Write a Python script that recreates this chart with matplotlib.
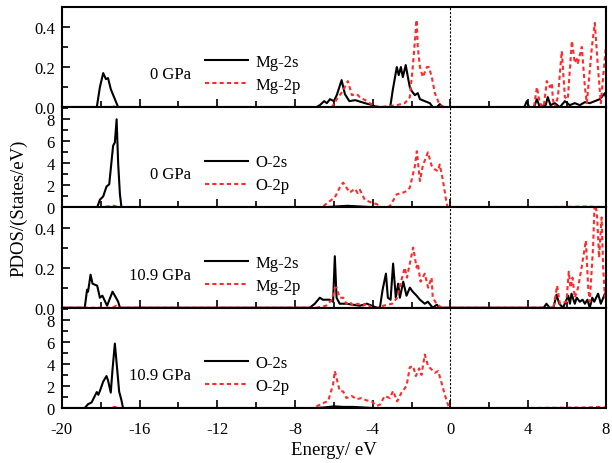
import numpy as np
import matplotlib
matplotlib.use("Agg")
import matplotlib.pyplot as plt
from matplotlib.ticker import MultipleLocator, FormatStrFormatter

plt.rcParams['font.family'] = ['Liberation Serif', 'DejaVu Serif']
plt.rcParams['font.size'] = 12
plt.rcParams['axes.unicode_minus'] = False

# Mg PDOS at 0 GPa (energy in eV, states/eV)
mg_s_0_e = [-20, -18.2, -18.04, -17.87, -17.73, -17.62, -17.48, -17.27, -17.1,
            -6.9, -6.72, -6.5, -6.36, -6.2, -6.0, -5.85, -5.6, -5.43, -5.2, -4.9,
            -4.4, -4.0, -3.8, -3.1, -2.96, -2.76, -2.66, -2.55, -2.45, -2.30, -2.19,
            -2.09, -1.99, -1.83, -1.68, -1.57, -1.32, -1.06, -0.91, -0.7, -0.55, -0.39,
            3.8, 3.93, 4.05, 4.3, 4.45, 4.6, 4.9, 5.01, 5.15, 5.37, 5.63, 5.89, 6.14,
            6.40, 6.66, 6.92, 7.17, 7.43, 7.69, 7.95, 8]
mg_s_0_v = [0, 0, 0.1, 0.17, 0.14, 0.145, 0.09, 0.04, 0,
            0, 0.01, 0.03, 0.02, 0.04, 0.03, 0.06, 0.135, 0.065, 0.03, 0.035,
            0.02, 0.01, 0, 0, 0.09, 0.2, 0.16, 0.2, 0.15, 0.21, 0.15,
            0.1, 0.08, 0.06, 0.07, 0.04, 0.03, 0.02, 0, 0, 0.015, 0,
            0, 0.03, 0, 0, 0.04, 0, 0.01, 0.05, 0.01, 0.02, 0, 0.03, 0.01,
            0.02, 0.01, 0.025, 0.02, 0.03, 0.04, 0.07, 0.05]
mg_p_0_e = [-20, -17.6, -17.4, -17.2, -6.1, -5.85, -5.54, -5.28, -5.07, -4.82,
            -4.66, -4.3, -4.0, -3.63, -2.76, -2.35, -2.09, -1.94, -1.74, -1.68,
            -1.57, -1.42, -1.21, -1.11, -0.96, -0.80, -0.55, -0.29,
            4.3, 4.45, 4.6, 4.8, 4.96, 5.12, 5.22, 5.27, 5.37, 5.53, 5.73, 5.89,
            6.04, 6.25, 6.40, 6.51, 6.56, 6.76, 6.92, 7.02, 7.28, 7.43, 7.59, 7.74,
            7.95, 8]
mg_p_0_v = [0, 0, 0.005, 0, 0, 0.04, 0.08, 0.13, 0.06, 0.065,
            0.05, 0.03, 0.01, 0, 0.01, 0.02, 0.05, 0.2, 0.435, 0.3,
            0.2, 0.15, 0.2, 0.2, 0.15, 0.07, 0.01, 0,
            0, 0.1, 0.02, 0, 0.13, 0.1, 0.12, 0.04, 0, 0.05, 0.28, 0.05,
            0.04, 0.33, 0.22, 0.24, 0.22, 0.3, 0.1, 0.02, 0.3, 0.42, 0.2, 0.02,
            0.25, 0.3]

# O PDOS at 0 GPa
o_s_0_e = [-20, -18.18, -18.04, -17.87, -17.7, -17.56, -17.36, -17.27, -17.18,
           -17.1, -17.01, -16.93, -6.7, -6.2, -5.8, -5.3, -4.8, -4.3, -3.8, 8]
o_s_0_v = [0, 0, 0.7, 1.0, 1.9, 2.1, 5.6, 5.9, 8.0,
           4.0, 1.2, 0, 0, 0.05, 0.1, 0.15, 0.1, 0.05, 0, 0]
o_p_0_e = [-20, -18.0, -17.6, -17.3, -17.1, -6.63, -6.21, -5.95, -5.70, -5.52,
           -5.35, -5.18, -4.92, -4.77, -4.66, -4.41, -4.15, -3.79, -3.53, -3.12,
           -2.76, -2.5, -2.24, -2.09, -1.83, -1.73, -1.57, -1.42, -1.16, -0.97,
           -0.80, -0.65, -0.55, -0.39, -0.2, -0.13, 3.5, 4.5, 6, 7, 7.5, 8]
o_p_0_v = [0, 0, 0.1, 0.15, 0, 0, 0.57, 0.9, 1.8, 2.25,
           1.8, 1.35, 1.7, 1.3, 1.6, 0.7, 0.5, 0.3, 0, 0.1,
           1.2, 1.3, 1.5, 1.8, 3.75, 5.1, 2.4, 3.8, 5.0, 3.8,
           3.45, 3.3, 3.9, 2.5, 0.4, 0, 0, 0.03, 0.05, 0.08, 0.05, 0.03]

# Mg PDOS at 10.9 GPa
mg_s_h_e = [-20, -18.82, -18.70, -18.65, -18.52, -18.42, -18.30, -18.18, -18.04,
            -17.91, -17.67, -17.39, -17.27, -17.10, -17.01,
            -7.24, -6.98, -6.72, -6.57, -6.36, -6.21, -6.04, -5.95, -5.86, -5.70,
            -5.35, -5.02, -4.66, -4.30, -3.79, -3.63, -3.49, -3.32, -3.22, -3.08,
            -2.95, -2.81, -2.69, -2.60, -2.43, -2.26, -2.09, -1.94, -1.74, -1.57,
            -1.32, -1.16, -0.91, -0.70, -0.55,
            4.8, 4.94, 5.1, 5.3, 5.46, 5.6, 5.8, 6.06, 6.15, 6.23, 6.4, 6.5, 6.66,
            6.8, 6.92, 7.05, 7.17, 7.3, 7.4, 7.6, 7.74, 7.95, 8]
mg_s_h_v = [0, 0, 0.09, 0.08, 0.165, 0.12, 0.115, 0.11, 0.05,
            0.06, 0.01, 0.08, 0.06, 0.03, 0,
            0, 0.02, 0.05, 0.04, 0.04, 0.04, 0.03, 0.257, 0.05, 0.02,
            0.02, 0.015, 0.01, 0.02, 0, 0, 0.09, 0.17, 0.05, 0.04,
            0.22, 0.05, 0.12, 0.05, 0.13, 0.06, 0.10, 0.08, 0.06, 0.04,
            0.02, 0.03, 0, 0.015, 0,
            0, 0.02, 0, 0, 0.065, 0.02, 0, 0.06, 0.02, 0.07, 0.02, 0.05, 0.03,
            0.04, 0.02, 0.04, 0, 0.05, 0.03, 0.07, 0.02, 0.07, 0.05]
mg_p_h_e = [-20, -17.4, -17.2, -17.0, -6.9, -6.4, -6.1, -5.95, -5.86, -5.70,
            -5.52, -5.35, -5.18, -5.02, -4.77, -4.5, -4.3, -4.05, -3.63, -3.46,
            -3.0, -2.74, -2.60, -2.35, -2.24, -2.09, -1.92, -1.74, -1.68, -1.54,
            -1.32, -1.15, -0.97, -0.91, -0.72, -0.46,
            5.3, 5.49, 5.63, 5.97, 6.09, 6.18, 6.28, 6.40, 6.57, 6.75, 6.97, 7.09,
            7.17, 7.34, 7.43, 7.55, 7.65, 7.78, 7.86, 7.95, 8]
mg_p_h_v = [0, 0, 0.01, 0, 0, 0.01, 0.04, 0.1, 0.1, 0.05,
            0.05, 0.02, 0.03, 0.01, 0.02, 0.01, 0.02, 0, 0, 0.01,
            0.02, 0.05, 0.11, 0.2, 0.15, 0.22, 0.30, 0.2, 0.22, 0.13,
            0.17, 0.1, 0.15, 0.05, 0.02, 0,
            0, 0.11, 0.02, 0.03, 0.18, 0.1, 0.15, 0.05, 0.1, 0.2, 0.335, 0.1,
            0.03, 0.3, 0.55, 0.45, 0.25, 0.45, 0.2, 0.05, 0.1]

# O PDOS at 10.9 GPa
o_s_h_e = [-20, -18.82, -18.65, -18.47, -18.2, -18.12, -18.04, -17.87, -17.7,
           -17.62, -17.48, -17.39, -17.27, -17.15, -17.05, -16.93, -16.85,
           -7.0, -6.5, -6.0, -5.5, -5.0, -4.5, -4.0, 8]
o_s_h_v = [0, 0, 0.35, 0.5, 1.45, 1.2, 1.55, 2.4, 2.9,
           2.5, 1.4, 3.5, 5.85, 3.5, 1.5, 0.7, 0,
           0, 0.05, 0.15, 0.1, 0.1, 0.05, 0, 0]
o_p_h_e = [-20, -17.6, -17.3, -17.1, -7.07, -6.72, -6.29, -6.04, -5.95, -5.83,
           -5.70, -5.52, -5.35, -5.09, -4.83, -4.58, -4.32, -4.06, -3.80, -3.63,
           -3.38, -3.12, -2.95, -2.74, -2.52, -2.26, -2.09, -1.92, -1.78, -1.61,
           -1.49, -1.32, -1.15, -0.97, -0.80, -0.63, -0.46, -0.29, -0.07,
           4.0, 6.0, 7.0, 7.6, 8]
o_p_h_v = [0, 0, 0.1, 0, 0, 0.3, 0.65, 2.15, 3.35, 2.5,
           1.55, 1.5, 0.9, 1.1, 0.8, 0.9, 0.7, 0.6, 0.2, 0.3,
           1.1, 0.9, 1.55, 0.6, 1.4, 2.0, 3.7, 3.8, 2.9, 3.6,
           3.0, 4.85, 3.8, 3.5, 3.2, 3.35, 2.3, 1.2, 0,
           0, 0.03, 0.05, 0.1, 0.05]

panels = [
    (mg_s_0_e, mg_s_0_v, mg_p_0_e, mg_p_0_v, "Mg-2s", "Mg-2p", "0 GPa"),
    (o_s_0_e, o_s_0_v, o_p_0_e, o_p_0_v, "O-2s", "O-2p", "0 GPa"),
    (mg_s_h_e, mg_s_h_v, mg_p_h_e, mg_p_h_v, "Mg-2s", "Mg-2p", "10.9 GPa"),
    (o_s_h_e, o_s_h_v, o_p_h_e, o_p_h_v, "O-2s", "O-2p", "10.9 GPa"),
]

fig, axes = plt.subplots(4, 1, sharex=True, figsize=(6.12, 4.64), dpi=100)
fig.subplots_adjust(left=0.101, right=0.990, top=0.983, bottom=0.1185, hspace=0)

for i, (ax, (se, sv, pe, pv, ls, lp, press)) in enumerate(zip(axes, panels)):
    ax.plot(se, sv, color='black', lw=1.5, label=ls)
    ax.plot(pe, pv, color='#ff2a2a', lw=1.5, ls=(0, (2, 1.5)), label=lp)
    ax.axvline(0, color='black', lw=0.8, ls=(0, (2, 1.5)))
    ax.set_xlim(-20, 8)
    if i % 2 == 0:
        ax.set_ylim(0, 0.5)
        ax.yaxis.set_major_locator(MultipleLocator(0.2))
        ax.yaxis.set_minor_locator(MultipleLocator(0.1))
        ax.yaxis.set_major_formatter(FormatStrFormatter('%.1f'))
    else:
        ax.set_ylim(0, 9.1)
        ax.yaxis.set_major_locator(MultipleLocator(2))
        ax.yaxis.set_minor_locator(MultipleLocator(1))
    ax.xaxis.set_major_locator(MultipleLocator(4))
    ax.xaxis.set_minor_locator(MultipleLocator(2))
    ax.tick_params(which='both', direction='in', top=False, right=False,
                   width=1.2, labelsize=12)
    ax.tick_params(which='major', length=6)
    ax.tick_params(which='minor', length=4)
    ax.tick_params(axis='x', pad=9)
    ax.tick_params(axis='y', pad=5)
    for sp in ax.spines.values():
        sp.set_linewidth(1.5)
    ax.text(0.237, 0.33, press, transform=ax.transAxes, ha='right',
            va='center', fontsize=12)
    ax.legend(loc='center left', bbox_to_anchor=(0.263, 0.335), frameon=False,
              borderpad=0, borderaxespad=0, handlelength=2.6,
              handletextpad=0.42, labelspacing=0.42, fontsize=12)

axes[-1].set_xlabel("Energy/ eV", fontsize=13.5, labelpad=3)
fig.text(0.03, 0.55, "PDOS/(States/eV)", rotation=90, ha='center',
         va='center', fontsize=13.5)

fig.savefig("out.png", dpi=100)
